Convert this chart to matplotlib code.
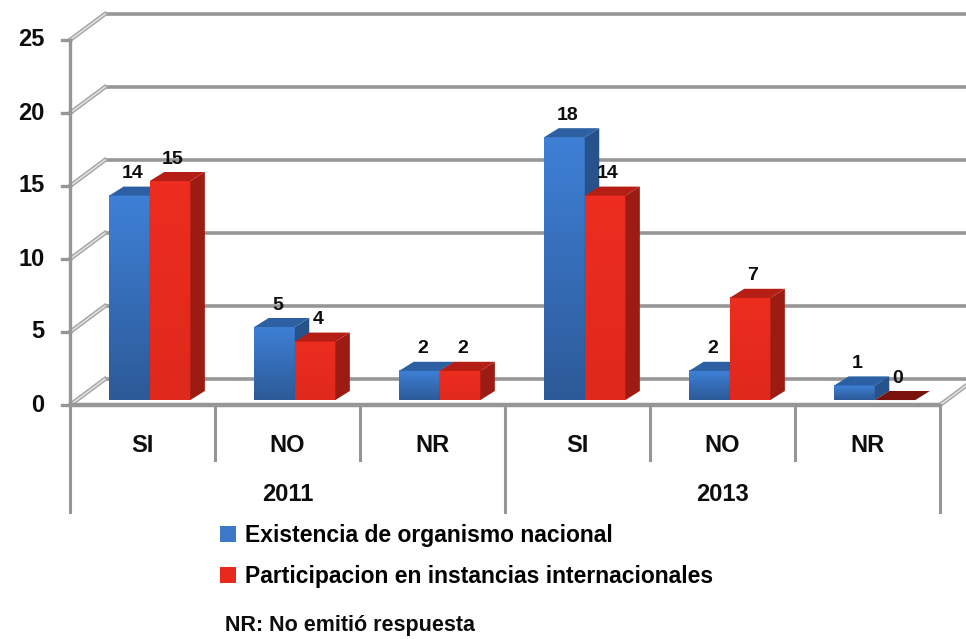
import numpy as np
import matplotlib
matplotlib.use('Agg')
import matplotlib.pyplot as plt
from matplotlib.patches import Polygon, Patch
from matplotlib.colors import LinearSegmentedColormap

# ---- data ----
years = ['2011', '2013']
answers = ['SI', 'NO', 'NR']
existencia = [14, 5, 2, 18, 2, 1]
participacion = [15, 4, 2, 14, 7, 0]
series_names = ['Existencia de organismo nacional',
                'Participacion en instancias internacionales']
yticks = [0, 5, 10, 15, 20, 25]
note = 'NR: No emitió respuesta'

FONT = ['Liberation Sans', 'DejaVu Sans']
plt.rcParams['font.family'] = FONT

W, H = 966, 639
fig = plt.figure(figsize=(W / 100, H / 100), dpi=100)
ax = fig.add_axes([70 / W, (H - 405) / H, 870 / W, 365 / H])
n = len(existencia)
ax.set_xlim(0, n)
ax.set_ylim(0, 25)
ax.axis('off')

GRID = '#969696'
DX, DY = 0.241, 1.78          # depth of the 3-D box (category / value units)
BDX, BDY = 0.10, 0.62          # depth of each bar
BASE = 0.34                    # bars sit slightly behind the front floor edge
BW = 0.28
OFF = 0.27
TXT = '#0d0d0d'

# back wall gridlines + left wall diagonals
for v in yticks:
    ax.plot([DX, n + DX], [v + DY, v + DY], color=GRID, lw=2.6, clip_on=False,
            zorder=1, solid_capstyle='butt')
    ax.plot([0, DX], [v, v + DY], color='#a8a8a8', lw=3.2, clip_on=False, zorder=1)
    ax.plot([0, DX], [v, v + DY], color='#e6e6e6', lw=1.0, clip_on=False, zorder=1)
    ax.plot([-0.055, 0], [v, v], color=GRID, lw=2.4, clip_on=False, zorder=3)
    ax.text(-0.175, v, str(v), ha='right', va='center', fontsize=17,
            fontweight='bold', color=TXT, clip_on=False)

# floor
ax.plot([0, n], [0, 0], color=GRID, lw=3.2, clip_on=False, zorder=2,
        solid_capstyle='butt')
ax.plot([n, n + DX], [0, DY], color='#a8a8a8', lw=3.2, clip_on=False, zorder=1)
ax.plot([n, n + DX], [0, DY], color='#e6e6e6', lw=1.0, clip_on=False, zorder=1)
ax.plot([0, 0], [0, 25], color=GRID, lw=2.4, clip_on=False, zorder=3)

# category separators and labels
for k in range(n + 1):
    low = -7.33 if k % 3 == 0 else -3.77
    ax.plot([k, k], [0, low], color=GRID, lw=2.2, clip_on=False, zorder=2)
for i in range(n):
    ax.text(i + 0.5, -2.74, answers[i % 3], ha='center', va='center', fontsize=17,
            fontweight='bold', color=TXT, clip_on=False)
for j, yr in enumerate(years):
    ax.text(j * 3 + 1.5, -6.1, yr, ha='center', va='center', fontsize=17,
            fontweight='bold', color=TXT, clip_on=False)

# bars
blue_cmap = LinearSegmentedColormap.from_list('b', ['#2c5a98', '#3e80d6'])
red_cmap = LinearSegmentedColormap.from_list('r', ['#e0281c', '#ec2d20'])
styles = [
    dict(cmap=blue_cmap, side='#27528c', top='#2d60a3', legend='#3b78c8'),
    dict(cmap=red_cmap, side='#9c1b12', top='#b51e14', legend='#e82a1e'),
]
grad = np.linspace(0, 1, 64).reshape(-1, 1)
z = 5
for i in range(n):
    for s, vals in enumerate([existencia, participacion]):
        v = vals[i]
        st = styles[s]
        x0 = i + OFF + s * BW
        x1 = x0 + BW
        top = BASE + v
        if v > 0:
            ax.imshow(grad, cmap=st['cmap'], extent=(x0, x1, BASE, top),
                      origin='lower', aspect='auto', zorder=z, interpolation='bilinear')
            ax.add_patch(Polygon([(x1, BASE), (x1 + BDX, BASE + BDY),
                                  (x1 + BDX, top + BDY), (x1, top)],
                                 closed=True, fc=st['side'], ec='none', zorder=z))
            topc = st['top']
        else:
            topc = '#7a130e'
        ax.add_patch(Polygon([(x0, top), (x0 + BDX, top + BDY),
                              (x1 + BDX, top + BDY), (x1, top)],
                             closed=True, fc=topc, ec='none', zorder=z))
        ax.text((x0 + x1) / 2 + 0.02, top + 1.5, str(v), ha='center', va='center',
                fontsize=14, fontweight='bold', color=TXT, zorder=20,
                clip_on=False)
        z += 1

ax.set_xlim(0, n)
ax.set_ylim(0, 25)

handles = [Patch(fc=styles[0]['legend'], ec='none'),
           Patch(fc=styles[1]['legend'], ec='none')]
fig.legend(handles, series_names, loc='upper left',
           bbox_to_anchor=(220 / W, 1 - 524 / H), frameon=False,
           handlelength=0.7, handleheight=0.7, handletextpad=0.4,
           labelspacing=0.8, borderpad=0, borderaxespad=0,
           prop=dict(family=FONT, size=16.5, weight='bold'))
fig.text(225 / W, 1 - 625 / H, note, ha='left', va='center', fontsize=15.5,
         fontweight='bold', color=TXT)

fig.savefig('out.png', dpi=100)
